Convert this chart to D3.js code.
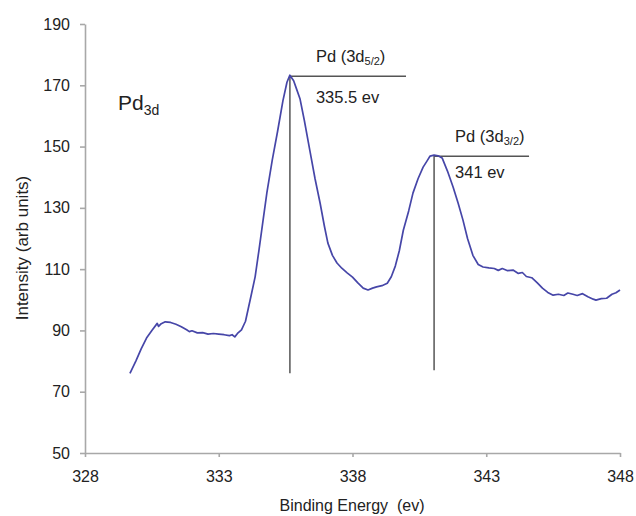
<!DOCTYPE html>
<html>
<head>
<meta charset="utf-8">
<script src="https://cdn.jsdelivr.net/npm/d3@7"></script>
<style>
  body { margin: 0; background: #fff; }
  svg { font-family: "Liberation Sans", Arial, sans-serif; }
</style>
</head>
<body>
<svg id="chart"></svg>
<script>
// spectrum
var energy = [329.68, 329.9, 330.1, 330.3, 330.5, 330.7, 330.75, 330.85, 331.0, 331.2, 331.4, 331.6, 331.8, 331.9, 332.0, 332.2, 332.4, 332.6, 332.8, 333.0, 333.2, 333.4, 333.5, 333.6, 333.7, 333.85, 334.0, 334.1, 334.2, 334.36, 334.5, 334.65, 334.8, 335.0, 335.2, 335.4, 335.55, 335.66, 335.8, 335.9, 336.04, 336.2, 336.41, 336.6, 336.79, 336.95, 337.08, 337.25, 337.42, 337.6, 337.8, 338.0, 338.2, 338.4, 338.58, 338.75, 338.9, 339.1, 339.3, 339.45, 339.6, 339.75, 339.9, 340.1, 340.26, 340.45, 340.64, 340.8, 340.9, 341.05, 341.2, 341.35, 341.55, 341.76, 341.95, 342.13, 342.3, 342.5, 342.7, 342.88, 343.1, 343.3, 343.45, 343.6, 343.8, 344.0, 344.2, 344.35, 344.5, 344.7, 344.9, 345.1, 345.3, 345.5, 345.7, 345.9, 346.05, 346.24, 346.4, 346.6, 346.8, 347.0, 347.1, 347.3, 347.5, 347.7, 347.85, 348.0]
var intensity = [76, 80, 84, 87.5, 90, 92.3, 91.3, 92.2, 92.8, 92.6, 92, 91.2, 90.2, 89.6, 89.9, 89.2, 89.3, 88.8, 89, 88.8, 88.6, 88.3, 88.6, 87.9, 89, 90.2, 93, 97, 101, 107.5, 116, 125.5, 135, 145.6, 155, 165, 171, 173.3, 171.5, 169, 165.5, 158.5, 148.5, 139.5, 131.5, 124, 118.5, 114.5, 112, 110.3, 108.8, 107.4, 105.5, 103.8, 103.2, 103.8, 104.2, 104.6, 105.4, 107.5, 111, 116, 122.7, 129, 134.8, 139.5, 143.3, 145.5, 146.9, 147.2, 147, 146.3, 142, 136.8, 131.5, 126, 120, 114.5, 111.5, 110.7, 110.4, 110.2, 109.6, 110.2, 109.5, 109.7, 108.6, 108.9, 107.6, 107.2, 105.6, 103.8, 102.4, 101.5, 101.8, 101.4, 102.2, 101.8, 101.4, 102, 101, 100.2, 99.9, 100.4, 100.5, 101.8, 102.3, 103.2]

var xTicks = [328, 333, 338, 343, 348]
var yTicks = [50, 70, 90, 110, 130, 150, 170, 190]

// peak markers: position, top, bottom of drop line, end of label line
var peakX = [335.66, 341.05]
var peakTop = [173.3, 147.2]
var peakBottom = [76, 77]
var peakLineEnd = [340.0, 344.6]
var peakName = ["5/2", "3/2"]
var peakLabel = ["335.5 ev", "341 ev"]

var dimensions = {
  width: 636,
  height: 516,
  margin: { top: 24, bottom: 63, right: 16, left: 85 }
}

var svg = d3.select("#chart")
  .attr("width", dimensions.width)
  .attr("height", dimensions.height)

var xScale = d3.scaleLinear()
  .domain([328, 348])
  .range([dimensions.margin.left, dimensions.width - dimensions.margin.right])

var yScale = d3.scaleLinear()
  .domain([50, 190])
  .range([dimensions.height - dimensions.margin.bottom, dimensions.margin.top])

var xAxis = svg.append("g")
  .attr("transform", `translate(0,${yScale(50)})`)
  .call(d3.axisBottom(xScale).tickValues(xTicks).tickSize(4).tickSizeOuter(0).tickPadding(14))

var yAxis = svg.append("g")
  .attr("transform", `translate(${xScale(328)},0)`)
  .call(d3.axisLeft(yScale).tickValues(yTicks).tickSize(5).tickSizeOuter(0).tickPadding(10))

svg.selectAll(".domain, .tick line")
  .attr("stroke", "#a8a8a8")
  .attr("stroke-width", 1.6)
svg.selectAll(".tick text")
  .attr("font-size", 16)
  .attr("fill", "#222")
  .attr("font-family", "Liberation Sans, Arial, sans-serif")

// axis titles
svg.append("text")
  .attr("x", 352)
  .attr("y", 511)
  .attr("text-anchor", "middle")
  .attr("font-size", 16)
  .attr("fill", "#222")
  .attr("xml:space", "preserve")
  .text("Binding Energy  (ev)")

svg.append("text")
  .attr("transform", "translate(28,248) rotate(-90)")
  .attr("text-anchor", "middle")
  .attr("font-size", 17)
  .attr("fill", "#222")
  .text("Intensity (arb units)")

// Pd3d label
var pd = svg.append("text")
  .attr("x", 118)
  .attr("y", 110)
  .attr("font-size", 21)
  .attr("fill", "#222")
pd.append("tspan").text("Pd")
pd.append("tspan").attr("font-size", 14).attr("dy", 5).text("3d")

// peak annotations
var labelGap = [28, 23]
peakX.forEach(function(p, i) {
  svg.append("line")
    .attr("x1", xScale(p)).attr("x2", xScale(p))
    .attr("y1", yScale(peakTop[i])).attr("y2", yScale(peakBottom[i]))
    .attr("stroke", "#555").attr("stroke-width", 1.5)
  svg.append("line")
    .attr("x1", xScale(p)).attr("x2", xScale(peakLineEnd[i]))
    .attr("y1", yScale(peakTop[i]) + 1).attr("y2", yScale(peakTop[i]) + 1)
    .attr("stroke", "#555").attr("stroke-width", 1.5)

  var lx = xScale(p) + (i == 0 ? 26 : 21)
  var t = svg.append("text")
    .attr("x", lx)
    .attr("y", yScale(peakTop[i]) - 13)
    .attr("font-size", 16.5)
    .attr("fill", "#222")
  t.append("tspan").text("Pd (3d")
  t.append("tspan").attr("font-size", 11).attr("dy", 3).text(peakName[i])
  t.append("tspan").attr("dy", -3).text(")")

  svg.append("text")
    .attr("x", lx)
    .attr("y", yScale(peakTop[i]) + labelGap[i])
    .attr("font-size", 16.5)
    .attr("fill", "#222")
    .text(peakLabel[i])
})

// spectrum line
var data = energy.map((e, i) => ({ x: e, y: intensity[i] }))
svg.append("path")
  .datum(data)
  .attr("fill", "none")
  .attr("stroke", "#4646a8")
  .attr("stroke-width", 1.7)
  .attr("stroke-linejoin", "round")
  .attr("d", d3.line().x(d => xScale(d.x)).y(d => yScale(d.y)))
</script>
</body>
</html>
